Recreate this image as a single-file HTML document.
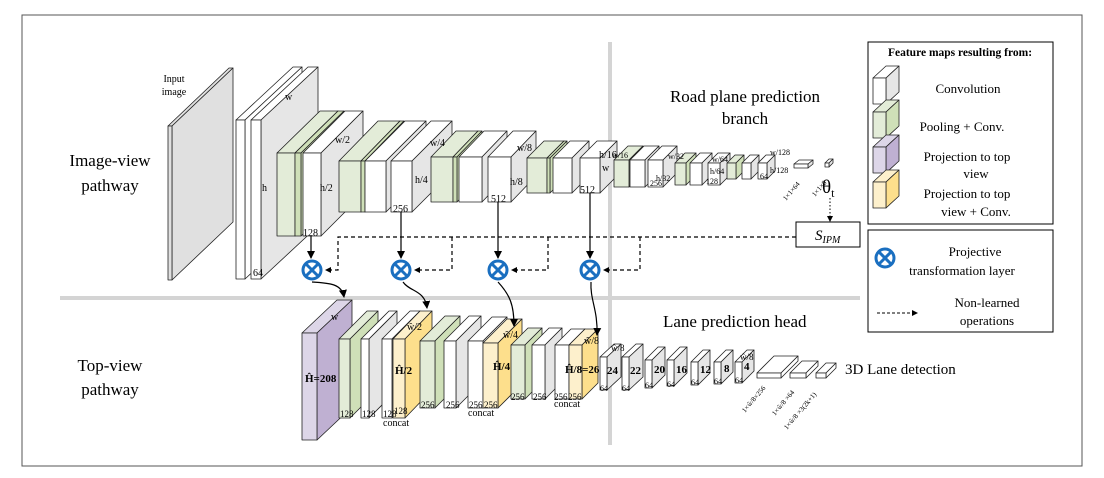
<!DOCTYPE html>
<html><head><meta charset="utf-8"><style>
html,body{margin:0;padding:0;background:#fff}
svg{display:block;font-family:"Liberation Serif",serif}
</style></head><body>
<svg id="s" width="1104" height="478" viewBox="0 0 1104 478" xmlns="http://www.w3.org/2000/svg">
<defs>
<marker id="ah" markerWidth="8" markerHeight="8" refX="7" refY="4" orient="auto" markerUnits="userSpaceOnUse"><path d="M0,0 L8,4 L0,8 z" fill="#000"/></marker>
<marker id="ah2" markerWidth="6" markerHeight="6" refX="5" refY="3" orient="auto" markerUnits="userSpaceOnUse"><path d="M0,0 L6,3 L0,6 z" fill="#000"/></marker>
</defs>
<rect x="22" y="15" width="1060" height="451" fill="#fff" stroke="#555" stroke-width="1"/>
<line x1="60" y1="298" x2="860" y2="298" stroke="#d4d4d4" stroke-width="4"/>
<line x1="610" y1="42" x2="610" y2="445" stroke="#d4d4d4" stroke-width="4"/>
<rect x="868" y="42" width="185" height="182" fill="#fff" stroke="#000"/>
<rect x="868" y="230" width="185" height="102" fill="#fff" stroke="#000"/>
<g id="boxes"></g>
<g fill="none" stroke="#000" stroke-width="1.2" stroke-dasharray="4,3">
<path d="M796,237 H338 V270 H326" marker-end="url(#ah2)"/>
<path d="M452,237 V270 H415" marker-end="url(#ah2)"/>
<path d="M548,237 V270 H512" marker-end="url(#ah2)"/>
<path d="M640,237 V270 H604" marker-end="url(#ah2)"/>
</g>
<line x1="830" y1="198" x2="830" y2="221" stroke="#000" stroke-dasharray="1.5,2" marker-end="url(#ah2)"/>
<rect x="796" y="222" width="64" height="25" fill="#fff" stroke="#000"/>
<text x="815" y="240" font-size="15" font-style="italic">S<tspan font-size="10" dy="3">IPM</tspan></text>
<text x="822" y="193" font-size="19">θ<tspan font-size="12" dy="4">t</tspan></text>
<g stroke="#000" stroke-width="1.2" fill="none">
<line x1="311" y1="236" x2="311" y2="258" marker-end="url(#ah)"/>
<line x1="401" y1="212" x2="401" y2="258" marker-end="url(#ah)"/>
<line x1="498" y1="202" x2="498" y2="258" marker-end="url(#ah)"/>
<line x1="590" y1="193" x2="590" y2="258" marker-end="url(#ah)"/>
<path d="M312,282 C330,283 342,284 344,297" marker-end="url(#ah)"/>
<path d="M403,282 C410,292 425,290 427,308" marker-end="url(#ah)"/>
<path d="M498,282 C510,295 514,305 514,326" marker-end="url(#ah)"/>
<path d="M591,282 C590,300 598,310 597,335" marker-end="url(#ah)"/>
</g>
<g fill="#fff" stroke="#1a6fc0" stroke-width="3">
<circle cx="312" cy="270" r="9"/><path d="M306,264 L318,276 M318,264 L306,276"/>
<circle cx="401" cy="270" r="9"/><path d="M395,264 L407,276 M407,264 L395,276"/>
<circle cx="498" cy="270" r="9"/><path d="M492,264 L504,276 M504,264 L492,276"/>
<circle cx="590" cy="270" r="9"/><path d="M584,264 L596,276 M596,264 L584,276"/>
<circle cx="885" cy="258" r="9"/><path d="M879,252 L891,264 M891,252 L879,264"/>
</g>
<g font-size="17" text-anchor="middle">
<text x="110" y="166">Image-view</text><text x="110" y="191">pathway</text>
<text x="110" y="371">Top-view</text><text x="110" y="395">pathway</text>
<text x="745" y="102">Road plane prediction</text><text x="745" y="124">branch</text>
</g>
<text x="663" y="327" font-size="17">Lane prediction head</text>
<text x="845" y="374" font-size="15">3D Lane detection</text>
<g font-size="10" text-anchor="middle">
<text x="174" y="82">Input</text><text x="174" y="95">image</text>
</g>
<g font-size="10">
<text x="285" y="100">w</text><text x="262" y="191">h</text><text x="253" y="276">64</text>
<text x="335" y="143">w/2</text><text x="320" y="191">h/2</text><text x="303" y="236">128</text>
<text x="430" y="146">w/4</text><text x="415" y="183">h/4</text><text x="393" y="212">256</text>
<text x="517" y="151">w/8</text><text x="510" y="185">h/8</text><text x="491" y="202">512</text>
<text x="599" y="158">h/16</text><text x="580" y="193">512</text><text x="602" y="171">w</text>
<text x="612" y="158" font-size="8">w/16</text>
<text x="668" y="159" font-size="8">w/32</text><text x="656" y="181" font-size="8">h/32</text><text x="650" y="186" font-size="8">256</text>
<text x="712" y="162" font-size="8">w/64</text><text x="710" y="174" font-size="8">h/64</text><text x="706" y="184" font-size="8">128</text>
<text x="770" y="155" font-size="8">w/128</text><text x="770" y="173" font-size="8">h/128</text><text x="760" y="179" font-size="8">64</text>
<text x="786" y="201" font-size="7" transform="rotate(-50 786 201)">1×1×64</text>
<text x="815" y="197" font-size="7" transform="rotate(-50 815 197)">1×1×8</text>
<text x="331" y="320">w</text><text x="305" y="382" font-weight="bold" font-size="11">Ĥ=208</text><text x="340" y="417" font-size="9">128</text>
<text x="362" y="417" font-size="9">128</text><text x="383" y="417" font-size="9">128</text><text x="394" y="414" font-size="9">128</text>
<text x="407" y="330">ŵ/2</text><text x="395" y="374" font-weight="bold" font-size="11">Ĥ/2</text>
<text x="383" y="426">concat</text>
<text x="421" y="408" font-size="9">256</text><text x="446" y="408" font-size="9">256</text><text x="469" y="408" font-size="9">256</text><text x="484" y="408" font-size="9">256</text>
<text x="468" y="416">concat</text>
<text x="503" y="338">ŵ/4</text><text x="493" y="370" font-weight="bold" font-size="11">Ĥ/4</text>
<text x="511" y="400" font-size="9">256</text><text x="533" y="400" font-size="9">256</text><text x="554" y="400" font-size="9">256</text><text x="568" y="400" font-size="9">256</text>
<text x="554" y="407">concat</text>
<text x="584" y="344">ŵ/8</text><text x="565" y="373" font-weight="bold" font-size="11">Ĥ/8=26</text>
<text x="611" y="351" font-size="9">ŵ/8</text>
<text x="740" y="360" font-size="9">ŵ/8</text>
</g>
<g font-size="11" font-weight="bold">
<text x="607" y="374">24</text><text x="630" y="374">22</text><text x="654" y="373">20</text><text x="676" y="373">16</text><text x="700" y="373">12</text><text x="724" y="372">8</text><text x="744" y="370">4</text>
</g>
<g font-size="8">
<text x="600" y="391">64</text><text x="622" y="391">64</text><text x="645" y="388">64</text><text x="667" y="387">64</text><text x="691" y="385">64</text><text x="714" y="384">64</text><text x="735" y="383">64</text>
<text x="745" y="413" font-size="7" transform="rotate(-50 745 413)">1×ŵ/8×256</text>
<text x="775" y="416" font-size="7" transform="rotate(-50 775 416)">1×ŵ/8 ×64</text>
<text x="787" y="430" font-size="7" transform="rotate(-50 787 430)">1×ŵ/8 ×3(2k+1)</text>
</g>
<text x="960" y="56" font-size="11.5" font-weight="bold" text-anchor="middle">Feature maps resulting from:</text>
<g font-size="13" text-anchor="middle">
<text x="968" y="93">Convolution</text>
<text x="962" y="131">Pooling + Conv.</text>
<text x="967" y="161">Projection to top</text><text x="976" y="178">view</text>
<text x="967" y="198">Projection to top</text><text x="976" y="216">view + Conv.</text>
<text x="975" y="256">Projective</text><text x="962" y="275">transformation layer</text>
<text x="987" y="307">Non-learned</text><text x="987" y="325">operations</text>
</g>
<line x1="877" y1="313" x2="917" y2="313" stroke="#000" stroke-dasharray="3,2" marker-end="url(#ah2)"/>
</svg>
<script>
var g=document.getElementById('boxes');
function B(x,y,w,h,dx,dy,f,s){
 var p='<g stroke="#222" stroke-width="0.8" stroke-linejoin="round">';
 p+='<polygon points="'+x+','+y+' '+(x+dx)+','+(y-dy)+' '+(x+w+dx)+','+(y-dy)+' '+(x+w)+','+y+'" fill="'+f+'"/>';
 p+='<polygon points="'+(x+w)+','+y+' '+(x+w+dx)+','+(y-dy)+' '+(x+w+dx)+','+(y+h-dy)+' '+(x+w)+','+(y+h)+'" fill="'+s+'"/>';
 p+='<rect x="'+x+'" y="'+y+'" width="'+w+'" height="'+h+'" fill="'+f+'"/></g>';
 g.insertAdjacentHTML('beforeend',p);
}
var W='#fff',G='#e6e6e6',GF='#e3ecd8',GS='#cfe0b8',PF='#ddd6e8',PS='#bfb0d2',YF='#fdf0cc',YS='#fddf8c';
B(168,126,4,154,61,58,'#e0e0e0','#e0e0e0');
B(236,120,9,159,57,53,W,W);
B(251,120,10,159,57,53,W,G);
B(277,153,18,83,43,42,GF,GS);
B(295,153,6,83,43,42,GS,GS);
B(303,153,18,83,42,42,W,G);
B(339,161,22,51,39,40,GF,GS);
B(361,161,4,51,39,40,GS,GS);
B(365,161,21,51,40,40,W,G);
B(391,161,21,51,40,40,W,G);
B(431,157,22,45,25,26,GF,GS);
B(453,157,4,45,25,26,GS,GS);
B(459,157,23,45,25,26,W,G);
B(488,157,23,45,25,26,W,G);
B(527,158,20,35,17,17,GF,GS);
B(547,158,3,35,17,17,GS,GS);
B(553,158,19,35,17,17,W,G);
B(580,158,20,35,17,17,W,G);
B(614,160,15,27,14,14,GF,GS);
B(630,160,15,27,14,14,W,G);
B(648,160,15,27,14,14,W,G);
B(675,163,11,22,10,10,GF,GS);
B(690,163,12,22,10,10,W,G);
B(708,163,12,22,10,10,W,G);
B(727,163,9,16,8,8,GF,GS);
B(742,163,9,16,8,8,W,G);
B(758,163,9,16,8,8,W,G);
B(794,164,14,4,5,4,W,G);
B(825,163,4,4,4,4,W,G);
B(302,333,15,107,35,33,PF,PS);
B(339,339,11,79,28,28,GF,GS);
B(361,339,8,79,28,28,W,G);
B(382,339,10,79,28,28,W,G);
B(393,339,12,79,27,28,YF,YS);
B(420,341,15,67,25,25,GF,GS);
B(444,341,12,67,25,25,W,G);
B(468,341,15,67,24,24,W,G);
B(483,343,15,65,24,24,YF,YS);
B(511,345,14,54,17,17,GF,GS);
B(532,345,13,54,17,17,W,G);
B(555,345,14,54,16,16,W,G);
B(569,345,13,54,16,16,YF,YS);
B(600,357,7,33,14,13,W,G);
B(622,357,7,33,14,13,W,G);
B(645,360,7,28,13,13,W,G);
B(667,360,7,26,13,13,W,G);
B(691,362,7,23,12,12,W,G);
B(714,362,7,22,12,12,W,G);
B(735,362,7,21,12,12,W,G);
B(757,373,24,5,17,17,W,W);
B(790,373,16,5,12,12,W,W);
B(816,373,10,5,10,10,W,W);
B(873,78,13,26,13,12,W,G);
B(873,112,13,26,13,12,GF,GS);
B(873,147,13,26,13,12,PF,PS);
B(873,182,13,26,13,12,YF,YS);
</script>
</body></html>
